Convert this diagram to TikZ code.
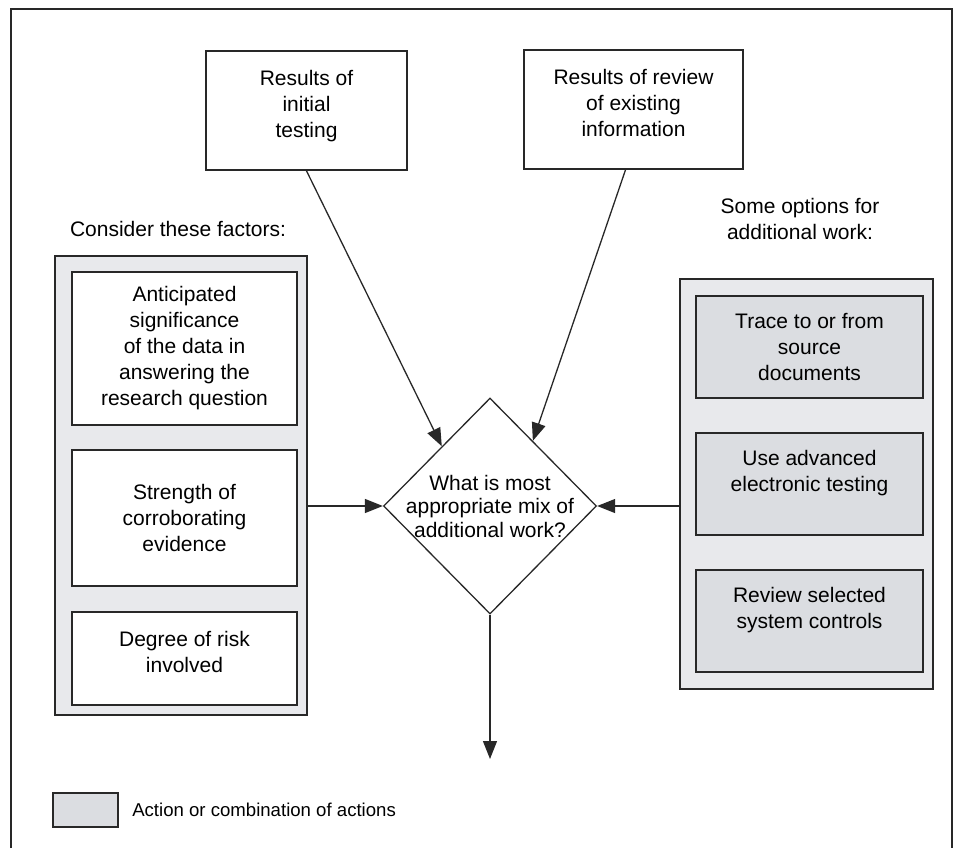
\documentclass[tikz,border=0pt]{standalone}
\usepackage{fontspec}
\setmainfont{Liberation Sans}
\usetikzlibrary{shapes.geometric,arrows.meta,positioning,calc}
\definecolor{pannello}{RGB}{232,233,236}
\definecolor{azione}{RGB}{219,221,225}
\definecolor{linea}{RGB}{40,40,40}

\tikzset{
  testo/.style={font=\fontsize{10.5}{13}\selectfont, align=center},
  riquadro/.style={testo, draw=linea, line width=0.85pt, fill=white, inner sep=0pt},
  azionebox/.style={riquadro, fill=azione},
  pannellobox/.style={draw=linea, line width=0.85pt, fill=pannello, inner sep=0pt},
  freccia/.style={draw=linea, line width=0.65pt, -{Triangle[length=9pt,width=7pt]}},
  decisione/.style={diamond, draw=linea, line width=0.65pt, inner sep=0pt}
}

\begin{document}
\begin{tikzpicture}[x=0.5pt,y=-0.5pt]
\useasboundingbox (0,0) rectangle (957,848);
% cornice
   \draw[linea, line width=1pt] (11,848) -- (11,9) -- (952,9) -- (952,848);
% risultati in alto
   \node[riquadro, minimum width=100.5pt, minimum height=59.5pt] (iniziali)
   at (306.5,110.5) {Results of\\initial\\testing\\[-6pt]\mbox{}};
   \node[riquadro, minimum width=109.5pt, minimum height=59.5pt] (revisione)
   at (633.5,109.5) {Results of review\\of existing\\information\\[-6pt]\mbox{}};
% fattori a sinistra
   \node[testo] (titfattori) at (178,229) {Consider these factors:};
   \node[pannellobox, minimum width=126pt, minimum height=229.5pt] (fattori)
   at (181,485.5) {};
   \node[riquadro, minimum width=112.5pt, minimum height=76.5pt] (signif)
   at (184.5,348.5) {Anticipated\\significance\\of the data in\\answering the\\research question};
   \node[riquadro, minimum width=112.5pt, minimum height=68pt] (forza)
   at (184.5,518) {Strength of\\corroborating\\evidence};
   \node[riquadro, minimum width=112.5pt, minimum height=46.5pt] (rischio)
   at (184.5,658.5) {Degree of risk\\involved\\[-6pt]\mbox{}};
% opzioni a destra
   \node[testo] (titopzioni) at (800,219) {Some options for\\additional work:};
   \node[pannellobox, minimum width=126.5pt, minimum height=205pt] (opzioni)
   at (806.5,484) {};
   \node[azionebox, minimum width=113.5pt, minimum height=51pt] (traccia)
   at (809.5,347) {Trace to or from\\source\\documents};
   \node[azionebox, minimum width=113.5pt, minimum height=51pt] (avanzato)
   at (809.5,484) {Use advanced\\electronic testing\\\mbox{}};
   \node[azionebox, minimum width=113.5pt, minimum height=51pt] (controlli)
   at (809.5,621) {Review selected\\system controls\\\mbox{}};
% rombo centrale
   \node[decisione, minimum width=106.5pt, minimum height=108pt,
   label={[testo, font=\fontsize{10.5}{11.75}\selectfont]center:What is most\\appropriate mix of\\additional work?}]
   (mix) at (490,506) {};
% frecce
   \draw[freccia] (iniziali.south) -- ($(mix.north)!0.45!(mix.west)$);
   \draw[freccia] ([xshift=-4pt]revisione.south) -- ($(mix.north)!0.4!(mix.east)$);
   \draw[freccia] (fattori.east |- mix.west) -- (mix.west);
   \draw[freccia] (opzioni.west |- mix.east) -- (mix.east);
   \coordinate (uscita) at (490,759);
   \draw[freccia] (mix.south) -- (uscita);
% legenda
   \node[azionebox, minimum width=32.5pt, minimum height=17pt] (chiave) at (85.5,810) {};
   \node[font=\fontsize{9.3}{11}\selectfont, inner sep=0pt, right=6.5pt of chiave]
   (legenda) {Action or combination of actions};
\end{tikzpicture}
\end{document}
